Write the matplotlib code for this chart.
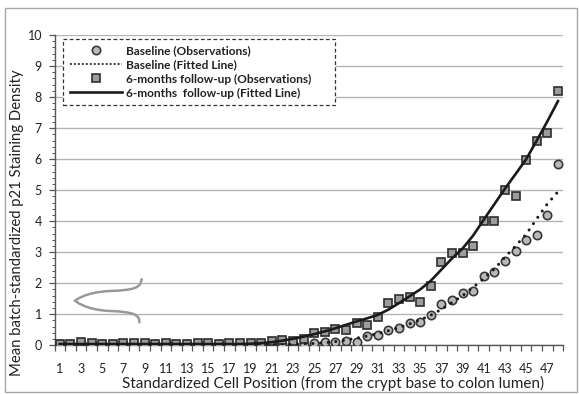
import matplotlib
matplotlib.use('Agg')
import matplotlib.pyplot as plt
from matplotlib.lines import Line2D
from matplotlib.patches import Rectangle, PathPatch
from matplotlib.path import Path
import numpy as np

plt.rcParams['font.family'] = ['Lato', 'DejaVu Sans']

positions = np.arange(1, 49)

baseline_obs = [0.04, 0.03, 0.06, 0.05, 0.04, 0.03, 0.04, 0.04, 0.04, 0.03,
                0.04, 0.03, 0.03, 0.05, 0.05, 0.03, 0.05, 0.05, 0.05, 0.04,
                0.06, 0.03, 0.03, 0.00, 0.06, 0.11, 0.11, 0.15, 0.11, 0.31,
                0.33, 0.50, 0.57, 0.73, 0.75, 0.98, 1.32, 1.46, 1.67, 1.75,
                2.24, 2.37, 2.71, 3.04, 3.39, 3.57, 4.21, 5.83]

followup_obs = [0.05, 0.05, 0.11, 0.08, 0.05, 0.03, 0.07, 0.07, 0.07, 0.03,
                0.07, 0.05, 0.05, 0.09, 0.09, 0.05, 0.09, 0.09, 0.09, 0.07,
                0.13, 0.16, 0.15, 0.19, 0.39, 0.44, 0.53, 0.50, 0.73, 0.66,
                0.92, 1.35, 1.48, 1.56, 1.38, 1.91, 2.68, 2.96, 2.96, 3.19,
                3.99, 4.02, 4.99, 4.82, 5.96, 6.57, 6.85, 8.19]

baseline_fit = [0.02, 0.02, 0.02, 0.02, 0.02, 0.02, 0.02, 0.02, 0.02, 0.02,
                0.02, 0.02, 0.02, 0.02, 0.02, 0.02, 0.02, 0.02, 0.02, 0.02,
                0.02, 0.02, 0.03, 0.04, 0.06, 0.08, 0.12, 0.17, 0.23, 0.30,
                0.38, 0.47, 0.57, 0.69, 0.82, 0.97, 1.16, 1.38, 1.60, 1.87,
                2.15, 2.46, 2.84, 3.20, 3.58, 4.08, 4.56, 4.95]

followup_fit = [0.04, 0.04, 0.04, 0.04, 0.04, 0.04, 0.04, 0.04, 0.04, 0.04,
                0.04, 0.04, 0.04, 0.04, 0.04, 0.04, 0.04, 0.04, 0.05, 0.07,
                0.10, 0.15, 0.21, 0.28, 0.36, 0.45, 0.55, 0.66, 0.77, 0.87,
                0.98, 1.15, 1.36, 1.58, 1.80, 2.08, 2.44, 2.80, 3.12, 3.54,
                4.05, 4.55, 5.05, 5.52, 6.00, 6.60, 7.22, 7.87]

W, H = 579, 394
fig = plt.figure(figsize=(W / 100, H / 100), dpi=100)
ax_l, ax_r, ax_t, ax_b = 54.5, 563.3, 35.0, 345.3
ax = fig.add_axes([ax_l / W, 1 - ax_b / H, (ax_r - ax_l) / W, (ax_b - ax_t) / H])

# outer frame
fig.patches.append(Rectangle((5 / W, 2 / H), 572 / W, (392 - 8) / H, transform=fig.transFigure,
                             fill=False, edgecolor='#a8a8a8', linewidth=1.0))

ax.set_xlim(0.5, 48.5)
ax.set_ylim(0, 10)
ax.set_yticks(range(0, 11))
ax.set_yticks(np.arange(0, 10.01, 0.2), minor=True)
ax.yaxis.grid(True, color='#b4b4b4', linewidth=1.0)
ax.set_axisbelow(True)
for s in ['top', 'right']:
    ax.spines[s].set_visible(False)
for s in ['left', 'bottom']:
    ax.spines[s].set_color('#555555')
    ax.spines[s].set_linewidth(1.0)

ax.set_xticks(positions[::2])
ax.set_xticklabels([str(p) for p in positions[::2]])
ax.set_xticks(np.arange(0.5, 48.6, 1), minor=True)
ax.tick_params(axis='x', which='major', length=0, pad=13, labelsize=9, labelcolor='#222222')
ax.tick_params(axis='x', which='minor', length=4, width=0.9, color='#555555', direction='out')
ax.tick_params(axis='y', which='major', length=4, width=0.9, color='#555555', pad=5,
               labelsize=9, labelcolor='#222222')
ax.tick_params(axis='y', which='minor', length=2.5, width=0.7, color='#555555')

ax.plot(positions, baseline_obs, linestyle='none', marker='o', markersize=6,
        markerfacecolor='#b9b9b9', markeredgecolor='#383838', markeredgewidth=1.2, zorder=3)
ax.plot(positions, followup_obs, linestyle='none', marker='s', markersize=6,
        markerfacecolor='#9c9c9c', markeredgecolor='#2e2e2e', markeredgewidth=1.2, zorder=4)
ax.plot(positions, baseline_fit, color='#1a1a1a', linewidth=2.2,
        linestyle=(0, (0.01, 2.5)), dash_capstyle='round', zorder=5)
ax.plot(positions, followup_fit, color='#1a1a1a', linewidth=1.9, zorder=6)

# curly break symbol
def px(x, y):
    return ((x - ax_l) / (ax_r - ax_l), (ax_b - y) / (ax_b - ax_t))

verts = [px(141.7, 278.3), px(141, 288), px(135, 290), px(110, 291),
         px(85, 292), px(75, 300.7), px(75, 300.7),
         px(75, 300.7), px(85, 310), px(110, 311),
         px(135, 312), px(140, 315), px(139.3, 323.3)]
codes = [Path.MOVETO, Path.CURVE4, Path.CURVE4, Path.CURVE4,
         Path.CURVE4, Path.CURVE4, Path.CURVE4,
         Path.CURVE4, Path.CURVE4, Path.CURVE4,
         Path.CURVE4, Path.CURVE4, Path.CURVE4]
ax.add_patch(PathPatch(Path(verts, codes), fill=False, edgecolor='#999999', linewidth=1.8,
                       transform=ax.transAxes, zorder=7))

handles = [
    Line2D([], [], linestyle='none', marker='o', markersize=6, markerfacecolor='#b9b9b9',
           markeredgecolor='#383838', markeredgewidth=1.2),
    Line2D([], [], color='#1a1a1a', linewidth=1.3, linestyle=(0, (1, 1.2))),
    Line2D([], [], linestyle='none', marker='s', markersize=6, markerfacecolor='#9c9c9c',
           markeredgecolor='#2e2e2e', markeredgewidth=1.2),
    Line2D([], [], color='#1a1a1a', linewidth=1.9),
]
labels = ['Baseline (Observations)', 'Baseline (Fitted Line)',
          '6-months follow-up (Observations)', '6-months  follow-up (Fitted Line)']
lx0, ly0 = px(63, 39)
lx1, _ = px(335, 39)
leg = ax.legend(handles, labels, loc='upper left', bbox_to_anchor=(lx0, ly0, lx1 - lx0, 0),
                mode='expand', borderaxespad=0, fancybox=False, framealpha=1,
                prop={'weight': 'bold', 'size': 8.6}, handlelength=4.4,
                handletextpad=0.35, labelspacing=0.25, borderpad=0.55)
leg.get_frame().set_linestyle((0, (3, 2)))
leg.get_frame().set_edgecolor('#333333')
leg.get_frame().set_linewidth(0.9)
for t in leg.get_texts():
    t.set_color('#222222')

fig.text(333 / W, 1 - 383 / H, 'Standardized Cell Position (from the crypt base to colon lumen)',
         ha='center', va='center', fontsize=11, color='#222222')
fig.text(17 / W, 1 - 223 / H, 'Mean batch-standardized p21 Staining Density',
         ha='center', va='center', rotation=90, fontsize=10.7, color='#222222')

fig.savefig('out.png', dpi=100)
